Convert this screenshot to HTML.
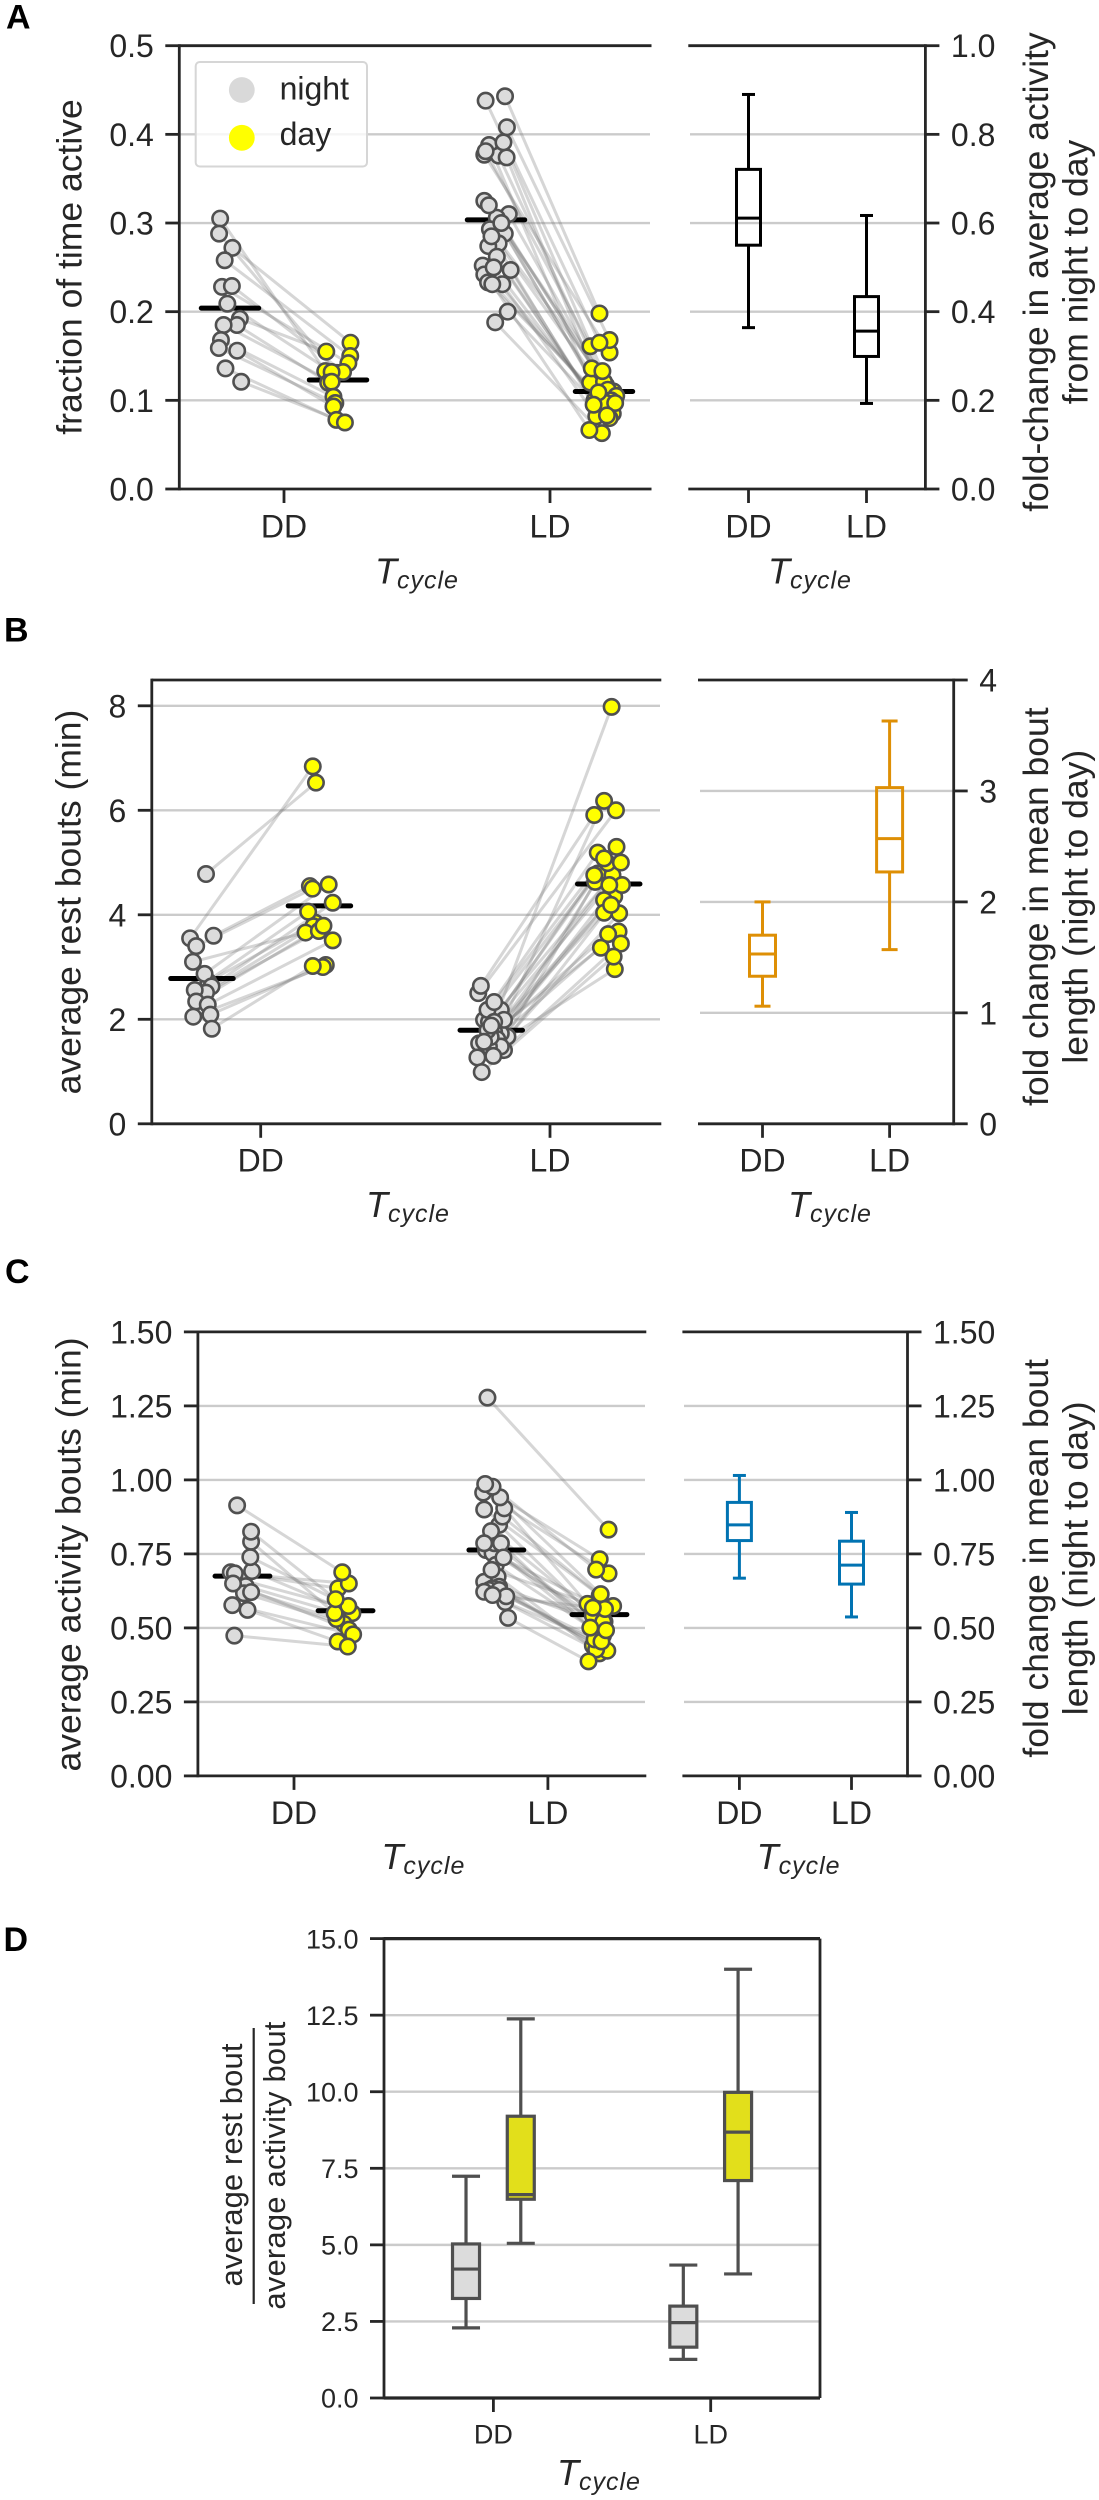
<!DOCTYPE html>
<html lang="en">
<head>
<meta charset="utf-8">
<title>Activity and rest bouts by Tcycle</title>
<style>
html,body{margin:0;padding:0;background:#fff;}
svg{display:block;font-family:"Liberation Sans",Arial,sans-serif;}
text{fill:#262626;}
</style>
</head>
<body>
<svg id="figure" xmlns="http://www.w3.org/2000/svg" width="1099" height="2500" viewBox="0 0 1099 2500">
<rect x="0" y="0" width="1099" height="2500" fill="#ffffff"/>
<g id="plots"></g>

<g font-size="34" font-weight="bold">
<text x="6" y="28.7" style="fill:#000">A</text>
<text x="4" y="641.7" style="fill:#000">B</text>
<text x="5" y="1283" style="fill:#000">C</text>
<text x="3.5" y="1951" style="fill:#000">D</text>
</g>

<g font-size="35.5" text-anchor="middle">
<text transform="translate(81.4 267) rotate(-90)">fraction of time active</text>
<text transform="translate(1048 272) rotate(-90)">fold-change in average activity</text>
<text transform="translate(1087.5 272) rotate(-90)">from night to day</text>
<text transform="translate(80.4 902) rotate(-90)">average rest bouts (min)</text>
<text transform="translate(1048 906.7) rotate(-90)">fold change in mean bout</text>
<text transform="translate(1087.5 906.7) rotate(-90)">length (night to day)</text>
<text transform="translate(80.4 1554.5) rotate(-90)">average activity bouts (min)</text>
<text transform="translate(1048 1558.3) rotate(-90)">fold change in mean bout</text>
<text transform="translate(1087.5 1558.3) rotate(-90)">length (night to day)</text>
<text transform="translate(241.8 2165) rotate(-90)" font-size="31" textLength="243">average rest bout</text>
<rect x="252.6" y="2028" width="2.2" height="276" fill="#262626"/>
<text transform="translate(285 2165.6) rotate(-90)" font-size="31" textLength="288">average activity bout</text>
</g>

<g font-style="italic" font-size="36">
<text x="375" y="583.5">T<tspan font-size="25" dy="5" letter-spacing="1">cycle</tspan></text>
<text x="768" y="583.5">T<tspan font-size="25" dy="5" letter-spacing="1">cycle</tspan></text>
<text x="366" y="1217">T<tspan font-size="25" dy="5" letter-spacing="1">cycle</tspan></text>
<text x="788" y="1217">T<tspan font-size="25" dy="5" letter-spacing="1">cycle</tspan></text>
<text x="381.4" y="1869">T<tspan font-size="25" dy="5" letter-spacing="1">cycle</tspan></text>
<text x="756.6" y="1869">T<tspan font-size="25" dy="5" letter-spacing="1">cycle</tspan></text>
<text x="557" y="2485" font-size="36">T<tspan font-size="25" dy="5" letter-spacing="1">cycle</tspan></text>
</g>

<g>
<rect x="195.7" y="62" width="171.3" height="104.5" rx="4" fill="#ffffff" fill-opacity="0.8" stroke="#d6d6d6" stroke-width="2"/>
<circle cx="241.8" cy="90" r="12.9" fill="#d9d9d9"/>
<circle cx="241.8" cy="137.8" r="12.9" fill="#ffff00"/>
<text x="279.6" y="99.5" font-size="32">night</text>
<text x="279.6" y="145" font-size="32">day</text>
</g>

<script>
// ---------- Shared categories ----------
const conditionLabels = ["DD", "LD"];

// ---------- Panel A data: fraction of time active ----------
const aTicksLeft = [0, 0.1, 0.2, 0.3, 0.4, 0.5];
const aTickLabelsLeft = ["0.0", "0.1", "0.2", "0.3", "0.4", "0.5"];
const aTicksRight = [0, 0.2, 0.4, 0.6, 0.8, 1.0];
const aTickLabelsRight = ["0.0", "0.2", "0.4", "0.6", "0.8", "1.0"];
const aMeansNight = [0.204, 0.3035];
const aMeansDay = [0.123, 0.110];
const aDDNight = [.305,.288,.272,.258,.228,.229,.209,.192,.185,.185,.168,.159,.156,.136,.121];
const aDDNightJitter = [-.037,-.041,.009,-.02,-.03,.007,-.01,.037,.026,-.024,-.034,-.042,.027,-.017,.042];
const aDDDay = [.133,.131,.165,.150,.142,.132,.132,.155,.120,.121,.104,.097,.093,.078,.075];
const aDDDayJitter = [-.048,-.004,.047,.046,.039,.019,-.024,-.044,-.037,-.024,-.017,-.01,-.017,-.006,.026];
const aLDNight = [.377,.388,.376,.325,.310,.306,.293,.288,.277,.274,.262,.252,.247,.242,.233,.231,.200,.188,.408,.381,.374,.391,.438,.443,.320,.300,.285,.250,.231];
const aLDNightJitter = [-.044,-.026,.01,-.044,.048,.003,-.023,.033,.01,-.029,.003,-.05,.055,-.044,-.03,.024,.044,-.003,.041,-.039,.04,.028,-.039,.034,-.027,.02,-.017,-.009,-.014];
const aLDDay = [.154,.120,.117,.110,.121,.112,.105,.100,.100,.100,.093,.089,.085,.085,.097,.082,.080,.063,.168,.161,.136,.133,.165,.198,.109,.097,.095,.083,.0665];
const aLDDayJitter = [.021,-.052,.008,.036,0,.014,.046,0,.027,-.036,-.023,.014,-.011,.033,.008,-.029,.021,-.008,.021,-.051,-.046,-.006,-.017,-.017,-.021,.042,-.039,.011,-.055];
// low whisker, q1, median, q3, high whisker
const aFoldDD = [.364, .55, .611, .721, .89];
const aFoldLD = [.193, .299, .356, .434, .617];

// ---------- Panel B data: average rest bouts ----------
const bTicksLeft = [0, 2, 4, 6, 8];
const bTickLabelsLeft = ["0", "2", "4", "6", "8"];
const bTicksRight = [0, 1, 2, 3, 4];
const bTickLabelsRight = ["0", "1", "2", "3", "4"];
const bMeansNight = [2.78, 1.79];
const bMeansDay = [4.17, 4.59];
const bDDNight = [2.72,2.45,4.78,3.55,3.60,3.40,3.10,2.87,2.63,2.51,2.56,2.34,2.28,2.09,2.05,1.82];
const bDDNightJitter = [.022,-.008,.014,-.041,.04,-.02,-.031,.009,.033,.014,-.025,-.02,.02,.029,-.03,.034];
const bDDDay = [3.85,3.78,6.53,6.84,4.55,4.50,3.66,4.58,4.23,3.69,4.06,3.79,3.51,3.04,3.00,3.02];
const bDDDayJitter = [-.015,-.021,-.012,-.023,-.033,-.024,-.048,.032,.046,-.002,-.039,.014,.046,.022,.012,-.023];
const bLDNight = [1.99,1.95,1.86,1.67,1.73,1.76,1.54,1.62,1.41,1.48,1.48,1.66,2.18,2.18,1.79,1.54,1.57,1.27,.99,2.50,2.64,1.99,2.33,1.95,1.30,1.88];
const bLDNightJitter = [-.025,-.008,.021,.056,.033,.01,-.002,.021,.044,.033,-.008,-.002,.033,-.013,-.013,-.042,-.025,-.048,-.033,-.045,-.036,.044,.01,.01,.007,0];
const bLDDay = [4.79,4.76,4.35,4.03,4.28,4.04,3.68,4.99,3.45,4.63,4.57,5.0,5.30,5.19,4.76,3.37,3.63,2.96,3.20,6.0,5.91,6.18,5.08,7.98,4.19,4.57];
const bLDDayJitter = [-.038,.013,.019,.036,-.016,-.016,.034,-.004,.042,-.047,.046,.042,.027,-.038,-.05,-.027,-.002,.021,.017,.025,-.05,-.016,-.016,.01,.008,.002];
const bFoldDD = [1.06, 1.33, 1.53, 1.70, 2.0];
const bFoldLD = [1.57, 2.27, 2.57, 3.03, 3.63];

// ---------- Panel C data: average activity bouts ----------
const cTicks = [0, 0.25, 0.5, 0.75, 1.0, 1.25, 1.5];
const cTickLabels = ["0.00", "0.25", "0.50", "0.75", "1.00", "1.25", "1.50"];
const cMeansNight = [0.675, 0.763];
const cMeansDay = [0.558, 0.545];
const cDDNight = [.661,.641,.688,.692,.617,.621,.739,.791,.825,.684,.914,.650,.577,.561,.474];
const cDDNightJitter = [0,.013,-.046,.038,.006,.034,.031,.034,.034,-.03,-.021,-.037,-.04,.02,-.032];
const cDDDay = [.568,.548,.634,.550,.514,.530,.574,.550,.597,.650,.688,.494,.478,.454,.437];
const cDDDayJitter = [0,-.021,-.029,.027,-.007,-.036,.011,-.043,-.039,.013,-.013,.013,.03,-.031,.009];
const cLDNight = [.763,.752,.786,.786,.713,.673,.656,.639,.634,.628,.628,.622,.587,.607,.534,.848,.876,.904,.900,.827,.738,.957,.941,.977,.986,1.278,.786,.696,.611];
const cLDNightJitter = [-.041,-.015,-.008,.018,-.002,.005,-.048,.011,-.015,-.028,.011,-.048,.035,.039,.046,.011,.024,.031,-.048,-.021,.028,-.052,.015,-.015,-.044,-.035,-.048,-.019,-.015];
const cLDDay = [.574,.521,.501,.487,.474,.414,.521,.44,.434,.541,.423,.427,.461,.454,.387,.541,.574,.581,.610,.521,.501,.684,.732,.697,.614,.832,.492,.564,.568];
const cLDDayJitter = [-.003,.02,.003,-.019,.014,0,-.01,-.026,.015,0,.031,-.013,-.019,.008,-.043,-.026,.054,-.047,.001,.015,-.036,.036,.001,-.013,.005,.036,.026,.022,-.026];
const cFoldDD = [.668, .795, .848, .924, 1.015];
const cFoldLD = [.537, .648, .712, .793, .89];

// ---------- Panel D data: rest / activity ratio ----------
const dTicks = [0, 2.5, 5, 7.5, 10, 12.5, 15];
const dTickLabels = ["0.0", "2.5", "5.0", "7.5", "10.0", "12.5", "15.0"];
const dDDNight = [2.29, 3.25, 4.21, 5.03, 7.24];
const dDDDay = [5.05, 6.49, 6.64, 9.2, 12.38];
const dLDNight = [1.26, 1.66, 2.46, 3.0, 4.34];
const dLDDay = [4.05, 7.1, 8.68, 9.98, 14.0];

// ---------- Drawing helpers ----------
const SVGNS = "http://www.w3.org/2000/svg";
const INK = "#262626";
const GRID = "#cbcbcb";
const plots = document.getElementById("plots");

function linear(d0, d1, r0, r1) {
  return function (v) { return r0 + (v - d0) * (r1 - r0) / (d1 - d0); };
}
function make(tag, attrs, parent) {
  const node = document.createElementNS(SVGNS, tag);
  for (const k in attrs) node.setAttribute(k, attrs[k]);
  parent.appendChild(node);
  return node;
}
function seg(x1, y1, x2, y2, color, width, parent) {
  return make("line", {x1: x1, y1: y1, x2: x2, y2: y2, stroke: color, "stroke-width": width}, parent);
}
function group(name, parent) {
  const g = make("g", {}, parent);
  
  
  return g;
}

// Gridlines are drawn for every tick that does not coincide with a horizontal spine.
function drawGrid(g, ticks, y, x1, x2, yTop, yBottom, prefix) {
  ticks.forEach(function (t) {
    const py = y(t);
    if (Math.abs(py - yTop) < 1 || Math.abs(py - yBottom) < 1) return;
    const ln = seg(x1, py, x2, py, GRID, 2.4, g);
    
    
  });
}
function drawYAxis(g, ticks, labels, y, xSpine, yTop, yBottom, side, fontSize, prefix) {
  const dir = side === "left" ? -1 : 1;
  const spine = seg(xSpine, yBottom + 1.4, xSpine, yTop - 1.4, INK, 2.8, g);
  
  
  ticks.forEach(function (t, i) {
    const tick = seg(xSpine, y(t), xSpine + dir * 14, y(t), INK, 2.8, g);
    
    
    const label = make("text", {
      x: xSpine + dir * 25.5, y: y(t) + fontSize * 0.358,
      "font-size": fontSize, "text-anchor": side === "left" ? "end" : "start"
    }, g);
    label.textContent = labels[i];
    
    
  });
}
function drawXTicks(g, x, yBottom, baseline, fontSize, prefix) {
  conditionLabels.forEach(function (name, i) {
    const tick = seg(x(i), yBottom, x(i), yBottom + 14, INK, 2.8, g);
    
    
    const label = make("text", {x: x(i), y: baseline, "font-size": fontSize, "text-anchor": "middle"}, g);
    label.textContent = name;
    
    
  });
}
function drawHLine(g, x1, x2, y, width, name) {
  const ln = seg(x1, y, x2, y, INK, width, g);
  
  
}
function drawBox(g, xc, stats, y, boxW, capW, color, fill, lw, name) {
  const whiskLow = seg(xc, y(stats[0]), xc, y(stats[1]), color, lw, g);
  
  
  const whiskHigh = seg(xc, y(stats[3]), xc, y(stats[4]), color, lw, g);
  
  
  const capLow = seg(xc - capW / 2, y(stats[0]), xc + capW / 2, y(stats[0]), color, lw, g);
  
  
  const capHigh = seg(xc - capW / 2, y(stats[4]), xc + capW / 2, y(stats[4]), color, lw, g);
  
  
  const box = make("rect", {
    x: xc - boxW / 2, y: y(stats[3]), width: boxW, height: y(stats[1]) - y(stats[3]),
    fill: fill, stroke: color, "stroke-width": lw
  }, g);
  
  
  const med = seg(xc - boxW / 2, y(stats[2]), xc + boxW / 2, y(stats[2]), color, lw, g);
  
  
}
const DODGE = 0.203;
const MEAN_HALF = 0.108;
const POINT_R = 7.7;
const POINT_STROKE = 2.6;
function drawPaired(g, x, y, cat, night, nightJ, day, dayJ, meanNight, meanDay, prefix) {
  const nx = cat - DODGE, dx = cat + DODGE;
  night.forEach(function (v, i) {
    const ln = make("line", {
      x1: x(nx + nightJ[i]), y1: y(v), x2: x(dx + dayJ[i]), y2: y(day[i]),
      stroke: "#787878", "stroke-opacity": 0.3, "stroke-width": 3
    }, g);
    
    
  });
  const mNight = make("line", {
    x1: x(nx - MEAN_HALF), y1: y(meanNight), x2: x(nx + MEAN_HALF), y2: y(meanNight),
    stroke: "#000", "stroke-width": 5, "stroke-linecap": "round"
  }, g);
  
  
  const mDay = make("line", {
    x1: x(dx - MEAN_HALF), y1: y(meanDay), x2: x(dx + MEAN_HALF), y2: y(meanDay),
    stroke: "#000", "stroke-width": 5, "stroke-linecap": "round"
  }, g);
  
  
  night.forEach(function (v, i) {
    const c = make("circle", {cx: x(nx + nightJ[i]), cy: y(v), r: POINT_R, fill: "#dcdcdc", stroke: "#505050", "stroke-width": POINT_STROKE}, g);
    
    
  });
  day.forEach(function (v, i) {
    const c = make("circle", {cx: x(dx + dayJ[i]), cy: y(v), r: POINT_R, fill: "#ffff00", stroke: "#505050", "stroke-width": POINT_STROKE}, g);
    
    
  });
}

// ---------- Panel A ----------
(function () {
  const g = group("panel-a", plots);
  const top = 45.7, bottom = 489;
  const yL = linear(0, 0.5, bottom, top), yR = linear(0, 1, bottom, top);
  const xL = linear(0, 1, 284, 550), xR = linear(0, 1, 748.5, 866.5);
  drawGrid(g, aTicksLeft, yL, 180, 650, top, bottom, "a-left");
  drawGrid(g, aTicksRight, yR, 690, 925, top, bottom, "a-right");
  drawPaired(g, xL, yL, 0, aDDNight, aDDNightJitter, aDDDay, aDDDayJitter, aMeansNight[0], aMeansDay[0], "a-dd");
  drawPaired(g, xL, yL, 1, aLDNight, aLDNightJitter, aLDDay, aLDDayJitter, aMeansNight[1], aMeansDay[1], "a-ld");
  drawBox(g, xR(0), aFoldDD, yR, 24, 13, "#000", "none", 3, "a-fold-dd");
  drawBox(g, xR(1), aFoldLD, yR, 24, 13, "#000", "none", 3, "a-fold-ld");
  drawHLine(g, 179.3, 651.5, top, 2.8, "a-left-top-spine");
  drawHLine(g, 179.3, 651.5, bottom, 2.8, "a-left-bottom-spine");
  drawHLine(g, 688.3, 925.4, top, 2.8, "a-right-top-spine");
  drawHLine(g, 688.3, 925.4, bottom, 2.8, "a-right-bottom-spine");
  drawYAxis(g, aTicksLeft, aTickLabelsLeft, yL, 179.3, top, bottom, "left", 32, "a-left");
  drawYAxis(g, aTicksRight, aTickLabelsRight, yR, 925.4, top, bottom, "right", 32, "a-right");
  drawXTicks(g, xL, bottom, 537.5, 32, "a-left");
  drawXTicks(g, xR, bottom, 537.5, 32, "a-right");
})();

// ---------- Panel B ----------
(function () {
  const g = group("panel-b", plots);
  const top = 680, bottom = 1123.8;
  const yL = linear(0, 8, bottom, 705.8), yR = linear(0, 4, bottom, top);
  const xL = linear(0, 1, 260.7, 550), xR = linear(0, 1, 762.5, 889.6);
  drawGrid(g, bTicksLeft, yL, 153, 660, top, bottom, "b-left");
  drawGrid(g, bTicksRight, yR, 700, 953, top, bottom, "b-right");
  drawPaired(g, xL, yL, 0, bDDNight, bDDNightJitter, bDDDay, bDDDayJitter, bMeansNight[0], bMeansDay[0], "b-dd");
  drawPaired(g, xL, yL, 1, bLDNight, bLDNightJitter, bLDDay, bLDDayJitter, bMeansNight[1], bMeansDay[1], "b-ld");
  drawBox(g, xR(0), bFoldDD, yR, 26, 16, "#de8f05", "none", 3, "b-fold-dd");
  drawBox(g, xR(1), bFoldLD, yR, 26, 16, "#de8f05", "none", 3, "b-fold-ld");
  drawHLine(g, 151.8, 661.3, top, 2.8, "b-left-top-spine");
  drawHLine(g, 151.8, 661.3, bottom, 2.8, "b-left-bottom-spine");
  drawHLine(g, 698, 953.7, top, 2.8, "b-right-top-spine");
  drawHLine(g, 698, 953.7, bottom, 2.8, "b-right-bottom-spine");
  drawYAxis(g, bTicksLeft, bTickLabelsLeft, yL, 151.8, top, bottom, "left", 32, "b-left");
  drawYAxis(g, bTicksRight, bTickLabelsRight, yR, 953.7, top, bottom, "right", 32, "b-right");
  drawXTicks(g, xL, bottom, 1171.6, 32, "b-left");
  drawXTicks(g, xR, bottom, 1171.6, 32, "b-right");
})();

// ---------- Panel C ----------
(function () {
  const g = group("panel-c", plots);
  const top = 1331.9, bottom = 1775.9;
  const y = linear(0, 1.5, bottom, top);
  const xL = linear(0, 1, 294, 547.9), xR = linear(0, 1, 739.4, 851.5);
  drawGrid(g, cTicks, y, 199, 645, top, bottom, "c-left");
  drawGrid(g, cTicks, y, 684, 907, top, bottom, "c-right");
  drawPaired(g, xL, y, 0, cDDNight, cDDNightJitter, cDDDay, cDDDayJitter, cMeansNight[0], cMeansDay[0], "c-dd");
  drawPaired(g, xL, y, 1, cLDNight, cLDNightJitter, cLDDay, cLDDayJitter, cMeansNight[1], cMeansDay[1], "c-ld");
  drawBox(g, xR(0), cFoldDD, y, 24, 13, "#0173b2", "none", 3, "c-fold-dd");
  drawBox(g, xR(1), cFoldLD, y, 24, 13, "#0173b2", "none", 3, "c-fold-ld");
  drawHLine(g, 197.9, 646.3, top, 2.8, "c-left-top-spine");
  drawHLine(g, 197.9, 646.3, bottom, 2.8, "c-left-bottom-spine");
  drawHLine(g, 682.4, 907.5, top, 2.8, "c-right-top-spine");
  drawHLine(g, 682.4, 907.5, bottom, 2.8, "c-right-bottom-spine");
  drawYAxis(g, cTicks, cTickLabels, y, 197.9, top, bottom, "left", 32, "c-left");
  drawYAxis(g, cTicks, cTickLabels, y, 907.5, top, bottom, "right", 32, "c-right");
  drawXTicks(g, xL, bottom, 1824, 32, "c-left");
  drawXTicks(g, xR, bottom, 1824, 32, "c-right");
})();

// ---------- Panel D ----------
(function () {
  const g = group("panel-d", plots);
  const top = 1938.6, bottom = 2398;
  const y = linear(0, 15, bottom, top);
  const x = linear(0, 1, 493.4, 710.7);
  const off = 0.126;
  drawGrid(g, dTicks, y, 385, 819, top, bottom, "d");
  drawBox(g, x(0 - off), dDDNight, y, 27, 28, "#4f4f4f", "#dcdcdc", 3.2, "d-dd-night");
  drawBox(g, x(0 + off), dDDDay, y, 27, 28, "#4f4f4f", "#e2df1b", 3.2, "d-dd-day");
  drawBox(g, x(1 - off), dLDNight, y, 27, 28, "#4f4f4f", "#dcdcdc", 3.2, "d-ld-night");
  drawBox(g, x(1 + off), dLDDay, y, 27, 28, "#4f4f4f", "#e2df1b", 3.2, "d-ld-day");
  drawHLine(g, 384, 820, top, 3.2, "d-top-spine");
  drawHLine(g, 384, 820, bottom, 3.2, "d-bottom-spine");
  const right = seg(820, top, 820, bottom, INK, 2.8, g);
  
  
  drawYAxis(g, dTicks, dTickLabels, y, 384, top, bottom, "left", 27, "d");
  drawXTicks(g, x, bottom, 2443.4, 27, "d");
})();
</script>
</svg>
</body>
</html>
